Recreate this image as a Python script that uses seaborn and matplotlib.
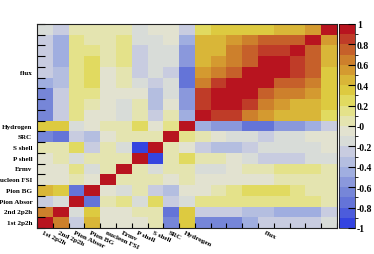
import numpy as np
import pandas as pd
import matplotlib
matplotlib.use("Agg")
import matplotlib.pyplot as plt
from matplotlib.colors import ListedColormap, BoundaryNorm
import seaborn as sns

plt.rcParams["font.family"] = ["Liberation Serif", "DejaVu Serif"]
plt.rcParams["font.weight"] = "bold"

named = ["1st 2p2h", "2nd 2p2h", "Pion Absor", "Pion BG", "nucleon FSI",
         "Ermv", "P shell", "S shell", "SRC", "Hydrogen"]
n_flux = 9
params = named + [f"flux {i + 1}" for i in range(n_flux)]

# correlation of each parameter with the ones before it (lower triangle)
r_1st_2p2h = [1.0]
r_2nd_2p2h = [0.65, 1.0]
r_pion_absor = [-0.25, -0.15, 1.0]
r_pion_bg = [0.45, 0.35, -0.75, 1.0]
r_nucleon_fsi = [-0.05, -0.05, 0.05, -0.05, 1.0]
r_ermv = [-0.05, -0.05, 0.15, -0.15, 0.05, 1.0]
r_p_shell = [-0.05, 0.05, -0.15, 0.05, 0.05, 0.05, 1.0]
r_s_shell = [0.05, 0.05, 0.25, -0.25, 0.05, -0.15, -0.95, 1.0]
r_src = [-0.65, -0.75, -0.25, -0.35, -0.05, 0.05, 0.05, 0.05, 1.0]
r_hydrogen = [0.35, 0.35, -0.15, -0.05, 0.05, 0.05, 0.25, -0.05, 0.15, 1.0]
r_flux1 = [-0.65, -0.25, 0.15, -0.05, -0.05, -0.15, 0.05, -0.25, 0.05, -0.45,
           1.0]
r_flux2 = [-0.65, -0.25, 0.15, 0.05, -0.05, -0.15, 0.05, -0.35, -0.05, -0.55,
           0.85, 1.0]
r_flux3 = [-0.65, -0.25, 0.15, 0.15, -0.05, -0.05, -0.05, -0.35, -0.15, -0.55,
           0.85, 0.95, 1.0]
r_flux4 = [-0.45, -0.35, 0.15, 0.25, -0.05, 0.05, -0.15, -0.25, -0.15, -0.75,
           0.65, 0.85, 0.95, 1.0]
r_flux5 = [-0.25, -0.35, 0.15, 0.25, -0.05, 0.05, -0.25, -0.15, -0.25, -0.75,
           0.55, 0.65, 0.75, 0.95, 1.0]
r_flux6 = [-0.25, -0.45, 0.15, 0.25, 0.05, 0.15, -0.25, -0.15, -0.15, -0.55,
           0.45, 0.55, 0.65, 0.75, 0.95, 1.0]
r_flux7 = [-0.25, -0.45, 0.15, 0.15, 0.05, 0.15, -0.25, -0.15, -0.15, -0.55,
           0.45, 0.45, 0.65, 0.75, 0.85, 0.85, 1.0]
r_flux8 = [-0.25, -0.45, 0.15, 0.05, 0.05, 0.15, -0.15, -0.15, -0.05, -0.45,
           0.45, 0.45, 0.55, 0.65, 0.75, 0.75, 0.75, 1.0]
r_flux9 = [-0.15, -0.25, 0.05, 0.05, 0.05, 0.05, -0.15, -0.05, -0.05, -0.25,
           0.25, 0.35, 0.35, 0.35, 0.35, 0.45, 0.45, 0.55, 1.0]

rows = [r_1st_2p2h, r_2nd_2p2h, r_pion_absor, r_pion_bg, r_nucleon_fsi,
        r_ermv, r_p_shell, r_s_shell, r_src, r_hydrogen, r_flux1, r_flux2,
        r_flux3, r_flux4, r_flux5, r_flux6, r_flux7, r_flux8, r_flux9]

n = len(params)
corr = np.zeros((n, n))
for i, row in enumerate(rows):
    for j, v in enumerate(row):
        corr[i, j] = v
        corr[j, i] = v

# heatmap draws the first row on top, so flip rows
df = pd.DataFrame(corr[::-1], index=params[::-1], columns=params)

# ROOT-like 20 level palette
colors = ["#3444e0", "#4c5cdc", "#6474d8", "#7686d8", "#8a98dc",
          "#a0aee0", "#b4bee0", "#c8cce0", "#d8dcd8", "#e2e2d0",
          "#e4e4b0", "#e4e28a", "#e1da60", "#ddca40", "#d9b638",
          "#d49a30", "#cd802c", "#c6602a", "#bf3c28", "#b8141f"]
cmap = ListedColormap(colors)
bounds = np.linspace(-1, 1, 21)
norm = BoundaryNorm(bounds, cmap.N)

fig = plt.figure(figsize=(3.74, 2.55), dpi=100)
ax = fig.add_axes([37 / 374, 26 / 255, 300 / 374, 204 / 255])
cax = fig.add_axes([339 / 374, 26 / 255, 16 / 374, 204 / 255])

sns.heatmap(df, cmap=cmap, norm=norm, ax=ax, cbar_ax=cax,
            xticklabels=False, yticklabels=False)

# bin edge ticks inside the frame
ax.set_xticks(np.arange(n + 1))
ax.set_yticks(np.arange(n + 1))
ax.set_xticklabels([])
ax.set_yticklabels([])
ax.tick_params(axis="x", direction="in", length=3.5, width=0.8, bottom=True)
ax.tick_params(axis="y", direction="in", length=5.5, width=0.8, left=True)
for s in ax.spines.values():
    s.set_visible(True)
    s.set_linewidth(0.8)
    s.set_color("#222222")

fs = 5.1
for i, name in enumerate(named):
    ax.text(-0.3, n - 1 - i + 0.5, name, ha="right", va="center",
            fontsize=fs, fontweight="bold")
    ax.text(i + 0.4, n + 0.15, name, ha="left", va="top", rotation=-25,
            rotation_mode="anchor", fontsize=fs, fontweight="bold")
ax.text(-0.3, n_flux / 2, "flux", ha="right", va="center",
        fontsize=fs, fontweight="bold")
ax.text(len(named) + n_flux / 2, n + 0.15, "flux", ha="left", va="top",
        rotation=-25, rotation_mode="anchor", fontsize=fs, fontweight="bold")

# colour bar
cticks = np.round(np.arange(-1, 1.01, 0.2), 1)
cax.set_yticks(cticks)
cax.set_yticklabels([f"{v:g}" for v in cticks], fontsize=7, fontweight="bold")
cax.tick_params(axis="y", direction="in", length=5, width=0.8, pad=1.5,
                right=True)
cbar = ax.collections[0].colorbar
cbar.outline.set_linewidth(0.5)

fig.savefig("out.png", dpi=100, facecolor="white")
plt.close(fig)
